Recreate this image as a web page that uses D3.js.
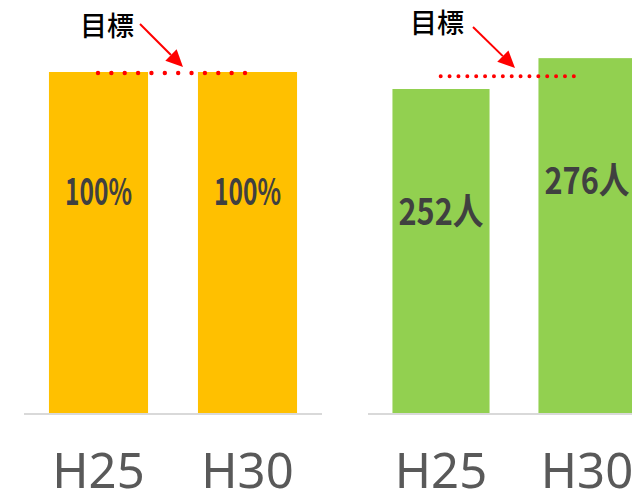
<!DOCTYPE html>
<html><head><meta charset="utf-8">
<script src="https://cdn.jsdelivr.net/npm/d3@7"></script>
<style>html,body{margin:0;padding:0;background:#fff;overflow:hidden}svg{display:block}</style>
</head><body>
<svg id="c" width="632" height="494"></svg>
<script>
// ---- data ----
const categories = ["H25", "H30"];
const rateValues = [100, 100];      // %
const rateLabels = ["100%", "100%"];
const rateTarget = 100;
const peopleValues = [252, 276];    // 人
const peopleLabels = ["252人", "276人"];
const peopleTarget = 262;
const targetText = "目標";

const svg = d3.select("#c");
const baseY = 413;

function drawChart(cfg) {
  const g = svg.append("g");
  const x = d3.scaleBand().domain(categories).range(cfg.xRange)
    .paddingInner(0.335).paddingOuter(0.1675);
  const y = d3.scaleLinear().domain(cfg.yDomain).range([baseY, cfg.yTop]);

  // bars
  g.selectAll("rect.bar").data(cfg.values).join("rect")
    .attr("x", (d, i) => x(categories[i]))
    .attr("width", x.bandwidth())
    .attr("y", d => y(d))
    .attr("height", d => baseY - y(d))
    .attr("fill", cfg.color);

  // axis line
  g.append("line")
    .attr("x1", cfg.xRange[0]).attr("x2", cfg.xRange[1])
    .attr("y1", baseY + 1).attr("y2", baseY + 1)
    .attr("stroke", "#d9d9d9").attr("stroke-width", 2);

  // axis labels
  g.selectAll("text.cat").data(categories).join("text")
    .attr("x", d => x(d) + x.bandwidth() / 2)
    .attr("y", 488)
    .attr("text-anchor", "middle")
    .attr("font-family", "'Noto Sans', 'Open Sans', sans-serif")
    .attr("font-size", 49)
    .attr("fill", "#595959")
    .text(d => d);

  // value labels
  g.selectAll("text.val").data(cfg.values).join("text")
    .attr("x", (d, i) => x(categories[i]) + x.bandwidth() / 2 - cfg.labelW / 2)
    .attr("y", d => y(d) + cfg.labelDy)
    .attr("font-family", "'Noto Sans CJK JP', sans-serif")
    .attr("font-size", 37)
    .attr("font-weight", 700)
    .attr("fill", "#404040")
    .attr("textLength", cfg.labelW)
    .attr("lengthAdjust", "spacingAndGlyphs")
    .text((d, i) => cfg.labels[i]);

  // target dotted line
  const ty = y(cfg.target) + cfg.dotDy;
  g.append("line")
    .attr("x1", cfg.dotX[0]).attr("x2", cfg.dotX[1])
    .attr("y1", ty).attr("y2", ty)
    .attr("stroke", "#ff0000")
    .attr("stroke-width", cfg.dotW)
    .attr("stroke-linecap", "round")
    .attr("stroke-dasharray", `0 ${(cfg.dotX[1] - cfg.dotX[0]) / (cfg.dotN - 1)}`);

  // target label
  g.append("text")
    .attr("x", cfg.textX).attr("y", cfg.textY)
    .attr("font-family", "'Noto Sans CJK JP', sans-serif")
    .attr("font-size", 27)
    .attr("font-weight", 500)
    .attr("fill", "#000")
    .text(targetText);

  // arrow
  const [x0, y0, x1, y1] = cfg.arrow;
  const ang = Math.atan2(y1 - y0, x1 - x0);
  const hl = 17, hw = 8;
  const bx = x1 - hl * Math.cos(ang), by = y1 - hl * Math.sin(ang);
  g.append("line")
    .attr("x1", x0).attr("y1", y0).attr("x2", bx).attr("y2", by)
    .attr("stroke", "#ff0000").attr("stroke-width", 2);
  const px = -Math.sin(ang), py = Math.cos(ang);
  g.append("path")
    .attr("d", `M${x1},${y1}L${bx + hw * px},${by + hw * py}L${bx - hw * px},${by - hw * py}Z`)
    .attr("fill", "#ff0000");
}

drawChart({
  xRange: [24, 322], yDomain: [0, 100], yTop: 72,
  values: rateValues, labels: rateLabels, target: rateTarget,
  color: "#ffc000", labelW: 67, labelDy: 133,
  dotX: [98, 245], dotN: 12, dotW: 4.4, dotDy: 1,
  textX: 80, textY: 36, arrow: [140, 24, 183, 67]
});
drawChart({
  xRange: [368, 660], yDomain: [0, 252], yTop: 89,
  values: peopleValues, labels: peopleLabels, target: peopleTarget,
  color: "#92d050", labelW: 85, labelDy: 136,
  dotX: [440.7, 582.7], dotN: 17, dotW: 4, dotDy: 0,
  textX: 410, textY: 33, arrow: [473, 27, 515, 68]
});
</script>
</body></html>
